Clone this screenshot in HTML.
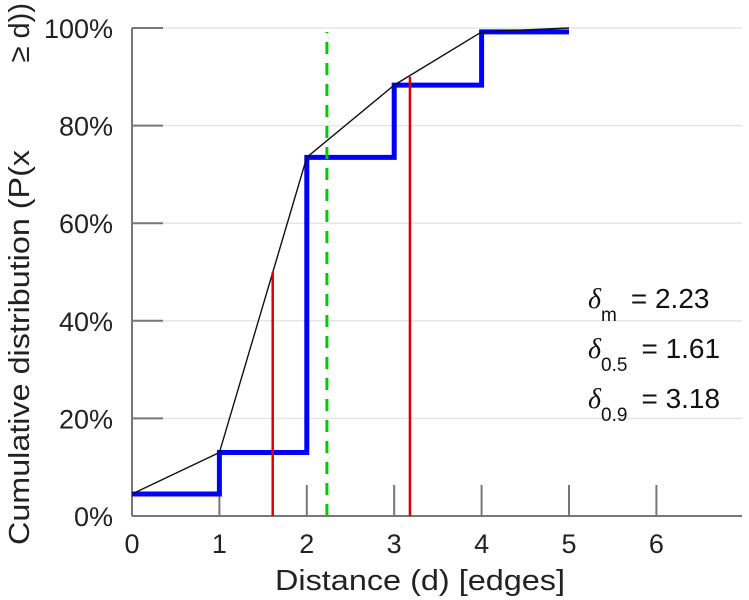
<!DOCTYPE html>
<html><head><meta charset="utf-8"><style>
body{margin:0;background:#fff;}
svg{display:block;font-family:"Liberation Sans",sans-serif;}
</style></head><body>
<svg id="chart" width="749" height="600">
<g id="grid"></g><g id="axes"></g><g id="marks"></g><g id="labels"></g>
<g font-size="29" fill="#222">
<text transform="translate(29,545) rotate(-90)" text-anchor="start" textLength="395" lengthAdjust="spacingAndGlyphs">Cumulative distribution (P(x</text>
<text transform="translate(29,3) rotate(-90)" text-anchor="end">≥ d))</text>
</g>
<text x="420" y="590" text-anchor="middle" font-size="29" fill="#222" textLength="290" lengthAdjust="spacingAndGlyphs">Distance (d) [edges]</text>
<g font-size="28" fill="#111">
<text x="588" y="308"><tspan font-style="italic" font-family="Liberation Serif">δ</tspan><tspan font-size="19" dy="13">m</tspan><tspan dy="-13" dx="14">= 2.23</tspan></text>
<text x="588" y="358"><tspan font-style="italic" font-family="Liberation Serif">δ</tspan><tspan font-size="19" dy="13">0.5</tspan><tspan dy="-13" dx="14">= 1.61</tspan></text>
<text x="588" y="408"><tspan font-style="italic" font-family="Liberation Serif">δ</tspan><tspan font-size="19" dy="13">0.9</tspan><tspan dy="-13" dx="14">= 3.18</tspan></text>
</g>
</svg>
<script>
const distances=[0,1,2,3,4,5];
const stepValues=[4.5,13,73.5,88.3,99.2,99.2];
const cdfValues=[4.5,13,73.5,88.3,99.2,100];
const xTicks=[0,1,2,3,4,5,6];
const yTicks=[0,20,40,60,80,100];
const quantiles=[1.61,3.18];
const quantileLevels=[50,90];
const meanDistance=2.23;
const NS="http://www.w3.org/2000/svg";
const x=d=>132+d*87.4;
const y=p=>516-p*4.88;
function mk(tag,attrs,parent){const e=document.createElementNS(NS,tag);for(const k in attrs)e.setAttribute(k,attrs[k]);document.getElementById(parent).appendChild(e);return e;}
yTicks.forEach(t=>{
 const g=mk('line',{x1:132,x2:742,y1:y(t),y2:y(t),stroke:'#e6e6e6','stroke-width':1.5},'grid');
 
 
 const tk=mk('line',{x1:132,x2:163,y1:y(t),y2:y(t),stroke:'#777','stroke-width':2},'axes');
 
 
 const l=mk('text',{x:113,y:y(t)+10,'text-anchor':'end','font-size':27,fill:'#222'},'labels');
 l.textContent=t+'%';
 
 
});
const ax=mk('line',{x1:132,x2:132,y1:y(100),y2:y(0),stroke:'#777','stroke-width':2},'axes');


const bx=mk('line',{x1:132,x2:742,y1:y(0),y2:y(0),stroke:'#777','stroke-width':2},'axes');


xTicks.forEach(t=>{
 const tk=mk('line',{x1:x(t),x2:x(t),y1:y(0),y2:y(0)-31,stroke:'#777','stroke-width':2},'axes');
 
 
 const l=mk('text',{x:x(t),y:553,'text-anchor':'middle','font-size':27,fill:'#222'},'labels');
 l.textContent=t;
 
 
});
let sp='';
for(let i=0;i<distances.length-1;i++){sp+=(i?'L':'M')+x(distances[i])+','+y(stepValues[i])+'L'+x(distances[i+1])+','+y(stepValues[i]);}
const step=mk('path',{d:sp,fill:'none',stroke:'#0000ff','stroke-width':5},'marks');


const cp=distances.map((d,i)=>(i?'L':'M')+x(d)+','+y(cdfValues[i])).join('');
const cl=mk('path',{d:cp,fill:'none',stroke:'#111','stroke-width':1.4},'marks');


quantiles.forEach((q,i)=>{
 const r=mk('line',{x1:x(q),x2:x(q),y1:y(0),y2:y(quantileLevels[i]),stroke:'#dd0000','stroke-width':2.5},'marks');
 
 
});
const m=mk('line',{x1:x(meanDistance),x2:x(meanDistance),y1:y(0),y2:32,stroke:'#00cc00','stroke-width':3,'stroke-dasharray':'12,9'},'marks');


</script>
</body></html>
